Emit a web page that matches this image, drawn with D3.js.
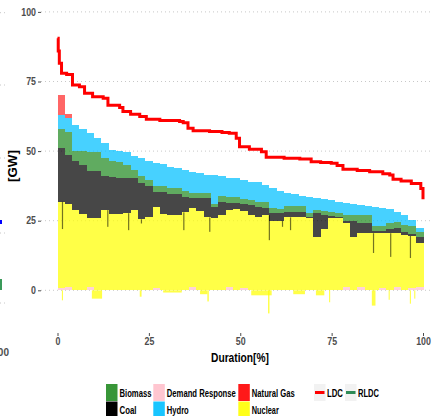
<!DOCTYPE html>
<html>
<head>
<meta charset="utf-8">
<script src="https://cdn.jsdelivr.net/npm/d3@7"></script>
<style>
  body { margin: 0; background: #fff; }
  text { font-family: "Liberation Sans", Arial, sans-serif; font-weight: bold; }
</style>
</head>
<body>
<svg id="chart" width="432" height="416"></svg>
<script>
// duration bins (start of each 2% step)
var binStart = d3.range(0, 100, 2);

// stacked generation per duration bin [GW]
var demandResp = [1.0,1.2,0,0,1.2,0,0,0,0,0, 0,0,0,1.0,0,0,0,0,1.2,0, 0,0,0,1.2,0,1.0,0,0,0,0, 0,0,0,0,0,0,0,0,0,1.2, 0,1.2,0,0,1.0,0,1.2,0,1.0,1.2];
var nuclear = [30.8,29.8,28.8,27.5,24.8,26,28.8,27.5,27.5,27.7, 28.8,25.5,26.5,29,27.5,27,27,28,28.3,28.5, 26.2,26,27,27.8,29.3,27.5,27,26.5,27,25, 25,26.2,26.2,26.2,26,19,22,26,26,23, 19,19.3,20.5,20.5,19.5,20.5,19.3,20,18.5,15.9];
var coal = [19.2,17.5,17.7,17.5,17,17,12.2,13.3,13,12.8, 11.5,13,11,5.4,7.9,7.5,7.5,5.5,3.6,4.6, 6.9,3.8,4.8,2.5,2.2,2.5,3.8,3.3,2.5,2.8, 2.7,2.1,2,2,0.3,8.7,5,0.8,0.5,0.8, 6,3.8,3.8,0.9,0.9,1.5,1.8,1,0.7,2.2];
var biomass = [7,8.5,3.5,5,6.7,6.7,6.5,5.7,5.5,4.5, 2.9,2.5,2,2.1,2.1,2.2,2.2,2,1.9,1.9, 1.9,1.2,2,2.1,1.9,1.8,1.5,2,2.1,1.7, 1.5,2.1,2,2,1.4,1.1,1.5,1.2,1.3,2, 2,2.7,2.7,1.7,1.7,2,2.3,2.5,2.8,1.7];
var hydro = [5,5,9.5,8,6.8,5,5.5,4,4.2,4.5, 5.1,6.5,6.8,8.3,7.7,7.6,7.1,7.7,7.6,7, 6.5,10.3,7.2,6.8,6.8,6.8,6.7,7,6.2,7.1, 6.6,4.6,4.4,3.8,5.9,4.3,4.3,4.3,4,4.5, 4,3.6,3.4,6.8,6.3,5.2,3.7,3.5,2.3,1.5];
var naturalGas = [7,1.5,0,0,0,0,0,0,0,0, 0,0,0,0,0,0,0,0,0,0, 0,0,0,0,0,0,0,0,0,0, 0,0,0,0,0,0,0,0,0,0, 0,0,0,0,0,0,0,0,0,0];

// short dips of nuclear output (coal shows through)
var dipX = [1.2, 13.6, 19.3, 22.8, 34.4, 41.5, 57.8, 61.4, 63.6, 86.3, 91, 96.4];
var dipY = [22, 22.8, 21.6, 24, 21.6, 21, 18, 22.8, 21.6, 13.4, 12, 11.6];

// parts of nuclear below zero
var negFrom = [1.2, 9.4, 22.5, 28.9, 39, 41, 53, 57.6, 64.5, 70.7, 74.3, 86, 90.6, 96.4, 97.6];
var negTo   = [1.5, 12.2, 23, 34, 41, 41.4, 58.6, 58, 67.7, 73, 74.6, 87, 90.9, 96.7, 97.9];
var negVal  = [-3.6, -3.0, -2.3, -0.8, -1.4, -4, -1.8, -8.3, -1.4, -1.8, -4.3, -5.5, -3.4, -4.8, -3];

// load duration curve (step start, GW)
var ldcX = [0,0.2,0.5,1.1,2.5,4.1,6,7.4,9.6,12.5,13.8,17,17.9,20,22.5,24.3,28,33.4,34.4,35.7,37.1,41.6,45,47,48.9,49.8,52.5,55.8,57.1,62,66.3,69.4,72,74.9,76.5,78.1,82,85.4,89,90.9,91.8,94,96.8,99.4,100];
var ldcY = [90.5,86,81.6,78,77.5,73.7,73.1,70.8,69.5,69,66.5,65.7,64.2,63.2,62.4,61.4,61,60.6,60.2,58.2,57.3,57,56.7,56.4,54.6,51.6,50.7,49.8,47.8,47.4,47.2,46.2,45.9,45.6,44.8,43.5,43,42.6,41.9,41.4,39.9,39.3,38.4,36.6,32.7];

var yTicks = [0, 25, 50, 75, 100];
var xTicks = [0, 25, 50, 75, 100];

var keys = ["Demand Response", "Nuclear", "Coal", "Biomass", "Hydro", "Natural Gas"];
var series = [demandResp, nuclear, coal, biomass, hydro, naturalGas];
var colors = {
  "Biomass": "#228B22", "Coal": "#000000", "Demand Response": "#FFC0CB",
  "Hydro": "#00BFFF", "Natural Gas": "#FF0000", "Nuclear": "#FFFF00"
};

var svg = d3.select("#chart");
var x = d3.scaleLinear().domain([0, 100]).range([57.5, 423]);
var y = d3.scaleLinear().domain([0, 100]).range([290.3, 11.9]);

// squeeze a text horizontally to the given width (narrow font look)
function fitText(g, tx, ty, w, str, size, extra) {
  var t = g.append("text").attr("font-size", size).text(str);
  var L = t.node().getComputedTextLength();
  t.attr("transform", "translate(" + tx + "," + ty + ")" + (extra || "") + " scale(" + (w / L) + ",1)");
  return t;
}

// rows for the stack, repeat last bin at the end so the step closes
var rows = binStart.map(function(p, i) {
  var r = {p: p};
  keys.forEach(function(k, j) { r[k] = series[j][i]; });
  return r;
});
var last = Object.assign({}, rows[rows.length - 1]); last.p = 100.3;
rows.push(last);

var stack = d3.stack().keys(keys)(rows);

// grid lines
svg.append("g").selectAll("line").data(yTicks).enter().append("line")
  .attr("x1", 41).attr("x2", 432)
  .attr("y1", function(d) { return y(d); }).attr("y2", function(d) { return y(d); })
  .attr("stroke", "#c8c8c8").attr("stroke-dasharray", "1,3");

// stub of the neighbouring panel on the left edge
var stubY = [12.7, 85, 158, 233, 303];
svg.append("g").selectAll("line").data(stubY).enter().append("line")
  .attr("x1", 0).attr("x2", 6).attr("y1", function(d) { return d; }).attr("y2", function(d) { return d; })
  .attr("stroke", "#c8c8c8").attr("stroke-dasharray", "1,3");
svg.append("rect").attr("x", 0).attr("y", 220).attr("width", 2).attr("height", 4).attr("fill", "#0000ff");
svg.append("rect").attr("x", 0).attr("y", 279).attr("width", 2).attr("height", 11).attr("fill", "#3a9a5a");
svg.append("text").attr("x", 9).attr("y", 356).attr("text-anchor", "end")
  .attr("font-size", 10).attr("fill", "#4d4d4d").text("100");

var area = d3.area()
  .curve(d3.curveStepAfter)
  .x(function(d) { return x(d.data.p); })
  .y0(function(d) { return y(d[0]); })
  .y1(function(d) { return y(d[1]); });

svg.append("g").selectAll("path").data(stack).enter().append("path")
  .attr("d", area)
  .attr("fill", function(d) { return colors[d.key]; })
  .attr("fill-opacity", function(d) { return d.key == "Natural Gas" ? 0.6 : 0.72; })
  .attr("shape-rendering", "crispEdges");

// nuclear dips
svg.append("g").selectAll("rect").data(dipX).enter().append("rect")
  .attr("x", function(d) { return x(d); })
  .attr("width", 1.2)
  .attr("y", function(d) { var i = Math.min(49, Math.floor(d / 2)); return y(demandResp[i] + nuclear[i]); })
  .attr("height", function(d, k) { var i = Math.min(49, Math.floor(d / 2)); return y(dipY[k]) - y(demandResp[i] + nuclear[i]); })
  .attr("fill", "#000").attr("fill-opacity", 0.55);

// nuclear below zero
svg.append("g").selectAll("rect").data(negVal).enter().append("rect")
  .attr("x", function(d, k) { return x(negFrom[k]); })
  .attr("width", function(d, k) { return Math.max(1, x(negTo[k]) - x(negFrom[k])); })
  .attr("y", y(0))
  .attr("height", function(d) { return y(d) - y(0); })
  .attr("fill", "#FFFF00").attr("fill-opacity", 0.72);

// RLDC: top of the stack
var top = stack[stack.length - 1];
var rldcLine = d3.line().curve(d3.curveStepAfter)
  .x(function(d) { return x(d.data.p); })
  .y(function(d) { return y(d[1]) - 1; });
svg.append("path").datum(top).attr("d", rldcLine)
  .attr("fill", "none").attr("stroke", "#2E8B57").attr("stroke-width", 2.2)
  .attr("stroke-dasharray", "4,9");

// LDC
var ldc = ldcX.map(function(p, i) { return [p, ldcY[i]]; });
svg.append("path").datum(ldc)
  .attr("d", d3.line().curve(d3.curveStepAfter).x(function(d) { return x(d[0]); }).y(function(d) { return y(d[1]); }))
  .attr("fill", "none").attr("stroke", "#FF0000").attr("stroke-width", 3);

// axes
var yAxis = svg.append("g").attr("transform", "translate(41,0)")
  .call(d3.axisLeft(y).tickValues(yTicks).tickSize(3).tickPadding(2));
var xAxis = svg.append("g").attr("transform", "translate(0,333)")
  .call(d3.axisBottom(x).tickValues(xTicks).tickSize(3).tickPadding(2));
[yAxis, xAxis].forEach(function(a) {
  a.select(".domain").remove();
  a.selectAll(".tick line").attr("stroke", "#4d4d4d");
  a.selectAll(".tick text").attr("fill", "#4d4d4d").attr("font-size", 10)
    .attr("font-family", "'Liberation Sans', sans-serif").attr("font-weight", "bold")
    .attr("textLength", function(d) { return String(d).length * 4.9; })
    .attr("lengthAdjust", "spacingAndGlyphs");
});

fitText(svg, 211, 362, 58, "Duration[%]", 12);
fitText(svg, 17, 182, 32, "[GW]", 12, " rotate(-90)");

// legend
var legendFill = [
  {name: "Biomass", col: 0, row: 0, w: 32}, {name: "Coal", col: 0, row: 1, w: 17},
  {name: "Demand Response", col: 1, row: 0, w: 69}, {name: "Hydro", col: 1, row: 1, w: 22},
  {name: "Natural Gas", col: 2, row: 0, w: 43}, {name: "Nuclear", col: 2, row: 1, w: 27}
];
var colX = [106, 153.3, 238.3];
var lg = svg.append("g");
legendFill.forEach(function(d) {
  var gx = colX[d.col], gy = 384 + d.row * 17.5;
  lg.append("rect").attr("x", gx).attr("y", gy).attr("width", 11.5).attr("height", 17)
    .attr("fill", colors[d.name]).attr("fill-opacity", d.name == "Coal" ? 1 : 0.9);
  fitText(lg, gx + 13.5, gy + 12.5, d.w, d.name, 10.5);
});
var legendLine = [{name: "LDC", col: "#FF0000", x: 314, w: 16}, {name: "RLDC", col: "#2E8B57", x: 345, w: 21}];
legendLine.forEach(function(d) {
  lg.append("rect").attr("x", d.x).attr("y", 384).attr("width", 11.5).attr("height", 17).attr("fill", "#f2f2f2");
  lg.append("line").attr("x1", d.x + 1).attr("x2", d.x + 10.5).attr("y1", 392.5).attr("y2", 392.5)
    .attr("stroke", d.col).attr("stroke-width", 3);
  fitText(lg, d.x + 13, 396.5, d.w, d.name, 10.5);
});
</script>
</body>
</html>
